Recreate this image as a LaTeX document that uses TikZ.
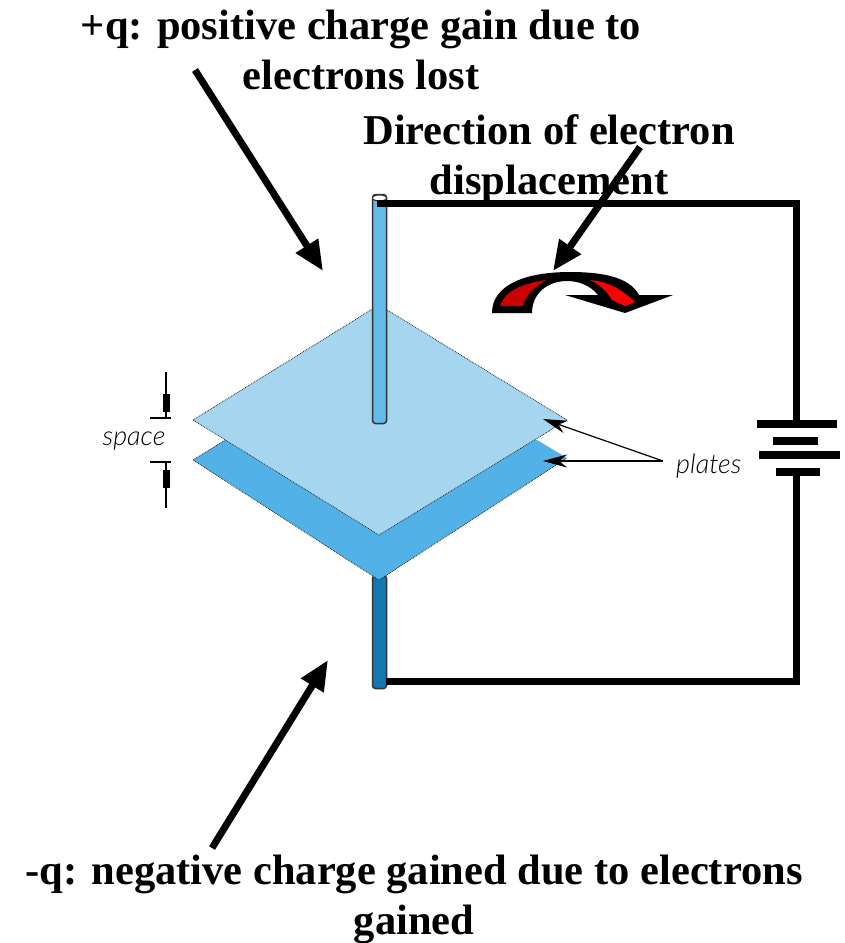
\documentclass[tikz,border=0pt]{standalone}
\usepackage{fontspec}
\setmainfont{Liberation Serif}
\newfontfamily\handfont{Lato Light}
\usetikzlibrary{arrows.meta}
\definecolor{upperplate}{HTML}{A6D5F0}
\definecolor{lowerplate}{HTML}{52B2E8}
\definecolor{upperrod}{HTML}{62BBE8}
\definecolor{lowerrod}{HTML}{1478B0}
\definecolor{darkred}{HTML}{CC0000}
\begin{document}
\begin{tikzpicture}[
  x=1pt, y=-1pt,
  caption/.style={font=\fontsize{42.5}{50}\selectfont\bfseries, align=center, inner sep=0pt},
  hand/.style={font=\fontsize{27}{30}\handfont\itshape, inner sep=0pt},
  bigarrow/.style={-{Triangle[length=30pt,width=25pt]}, line width=7pt},
  thinarrow/.style={-{Stealth[length=24pt,width=13pt]}, line width=1.2pt},
  gaptick/.style={line width=1.3pt},
  wire/.style={line width=7pt, line join=miter},
  cell/.style={fill=black, inner sep=0pt, minimum height=8pt},
  rod/.style={draw=black!80, line width=1.5pt, rounded corners=3pt, minimum width=14pt, inner sep=0pt},
  plate/.style={draw=black!85, line width=0.8pt, densely dotted}
]
  \useasboundingbox (0,0) rectangle (845,943);

  % plates
  \node[rod, fill=lowerrod, minimum height=113pt] (botrod) at (379.5,632) {};
  \fill[lowerplate] (193,460) -- (379,345) -- (567,458) -- (379,580) -- cycle;
  \draw[plate] (379,345) -- (193,460) -- (379,580) -- (567,458);
  \fill[upperplate] (193,420) -- (379,305) -- (567,420) -- (379,535) -- cycle;
  \draw[plate] (193,420) -- (379,305) -- (567,420) -- (379,535) -- cycle;

  % rods
  \node[rod, fill=upperrod, minimum height=229pt] (toprod) at (379.5,309) {};
  \fill[white] (379.5,198) ellipse (7pt and 3pt);
  \draw[black!80, line width=1pt] (379.5,198) ellipse (7pt and 3pt);

  % battery
  \node[cell, minimum width=80pt] (cella) at (797,424) {};
  \node[cell, minimum width=45pt] (cellb) at (795.5,441) {};
  \node[cell, minimum width=81pt] (cellc) at (799.5,455) {};
  \node[cell, minimum width=44pt] (celld) at (798,472) {};

  % circuit
  \coordinate (wiretop) at (377,203);
  \coordinate (wirebot) at (386,681);
  \coordinate (cornertop) at (796,203);
  \coordinate (cornerbot) at (796,681);
  \draw[wire] (wiretop) -- (cornertop) -- (cornertop |- cella);
  \draw[wire] (cornertop |- celld) -- (cornerbot) -- (wirebot);

  % curved arrow
  \fill[black] (492,313) .. controls (492,285) and (525,272) .. (570,272)
    .. controls (605,272) and (630,278) .. (639,295) -- (673,295) -- (625,313) -- (565,295) -- (598,295)
    .. controls (590,285) and (578,281) .. (567,281)
    .. controls (548,281) and (532,293) .. (532,313) -- cycle;
  \fill[darkred] (500,306) .. controls (505,290) and (525,283) .. (546,280)
    .. controls (535,287) and (525,295) .. (523,306) -- cycle;
  \fill[red] (590,280) .. controls (610,282) and (622,290) .. (635,302) -- (625,306) -- (612,300)
    .. controls (606,290) and (600,285) .. (590,280) -- cycle;

  % captions
  \node[caption] (plus) at (361,50) {+q: positive charge gain due to\\electrons lost};
  \node[caption] (dir) at (549,159) {Direction of electron\\displacement};
  \node[caption] (minus) at (414,899) {-q: negative charge gained due to electrons\\gained};

  \coordinate (plusfrom) at (195,70);
  \coordinate (plusto) at (323,271);
  \coordinate (dirfrom) at (640,147);
  \coordinate (dirto) at (553,271);
  \coordinate (minusfrom) at (212,848);
  \coordinate (minusto) at (328,660);
  \draw[bigarrow] (plusfrom) -- (plusto);
  \draw[bigarrow] (dirfrom) -- (dirto);
  \draw[bigarrow] (minusfrom) -- (minusto);

  % small labels
  \node[hand] (space) at (134,441) {space};
  \node[hand, anchor=west] (plates) at (676,466) {plates};
  \coordinate (platesfrom) at (663,461);
  \coordinate (uppertip) at (543,419);
  \coordinate (lowertip) at (543,461);
  \draw[thinarrow] (platesfrom) -- (uppertip);
  \draw[thinarrow] (platesfrom) -- (lowertip);

  \coordinate (gapa) at (166,372);
  \coordinate (gapb) at (166,418);
  \coordinate (gapc) at (166,462);
  \coordinate (gapd) at (166,508);
  \draw[gaptick] (gapa) -- (gapb);
  \draw[gaptick] (gapc) -- (gapd);
  \draw[gaptick] (150,418) -- (171,418);
  \draw[gaptick] (150,462) -- (171,462);
  \fill (163,394) rectangle (170,412);
  \fill (163,470) rectangle (170,488);
\end{tikzpicture}
\end{document}
